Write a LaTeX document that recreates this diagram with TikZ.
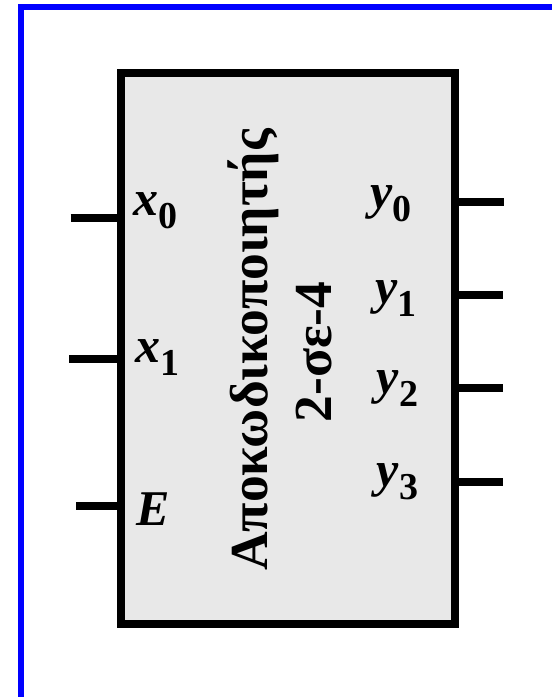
\documentclass[tikz,border=0pt]{standalone}
\usepackage{fontspec}
\setmainfont{LiberationSerif}[Extension=.ttf, UprightFont=*-Regular, BoldFont=*-Bold, ItalicFont=*-Italic, BoldItalicFont=*-BoldItalic]
\definecolor{boxgray}{RGB}{232,232,232}
\definecolor{framblue}{RGB}{0,0,255}
\tikzset{
  pin/.style={line width=8pt, black},
  lbl/.style={inner sep=0pt, anchor=base west, font=\fontsize{50}{60}\selectfont\bfseries\itshape},
  title/.style={inner sep=0pt, rotate=90, anchor=base, font=\fontsize{53.5}{60}\selectfont\bfseries},
}
\newcommand{\subs}[1]{\raisebox{-13.5pt}{\fontsize{38}{40}\selectfont\upshape #1}}
\begin{document}
\begin{tikzpicture}[x=1pt,y=-1pt]
\useasboundingbox (0,0) rectangle (552,697);
\clip (0,0) rectangle (552,697);
\fill[white] (0,0) rectangle (552,697);
\draw[framblue, line width=6pt] (21,7) rectangle (558,699.5);
\node (box) [draw=black, fill=boxgray, line width=8pt, minimum width=334pt, minimum height=551pt, inner sep=0pt] at (288,348) {};
\coordinate (i0) at (70.5,217.8);
\coordinate (i1) at (69,358.5);
\coordinate (ie) at (76,506);
\coordinate (o0) at (504.3,201.7);
\coordinate (o1) at (502.7,294.7);
\coordinate (o2) at (502.7,388.3);
\coordinate (o3) at (502.7,481.8);
\draw[pin] (i0) -- (i0 -| box.west);
\draw[pin] (i1) -- (i1 -| box.west);
\draw[pin] (ie) -- (ie -| box.west);
\draw[pin] (box.east |- o0) -- (o0);
\draw[pin] (box.east |- o1) -- (o1);
\draw[pin] (box.east |- o2) -- (o2);
\draw[pin] (box.east |- o3) -- (o3);
\node[lbl] (lx0) at (133,215) {x\subs{0}};
\node[lbl] (lx1) at (135,362) {x\subs{1}};
\node[lbl] (le) at (136,525) {E};
\node[lbl] (ly0) at (370,208) {y\subs{0}};
\node[lbl] (ly1) at (375,303) {y\subs{1}};
\node[lbl] (ly2) at (376.7,393) {y\subs{2}};
\node[lbl] (ly3) at (376.7,486) {y\subs{3}};
\node[title] (t1) at (267,350) {Αποκωδικοποιητής};
\node[title] (t2) at (331,352) {2-σε-4};
\end{tikzpicture}
\end{document}
